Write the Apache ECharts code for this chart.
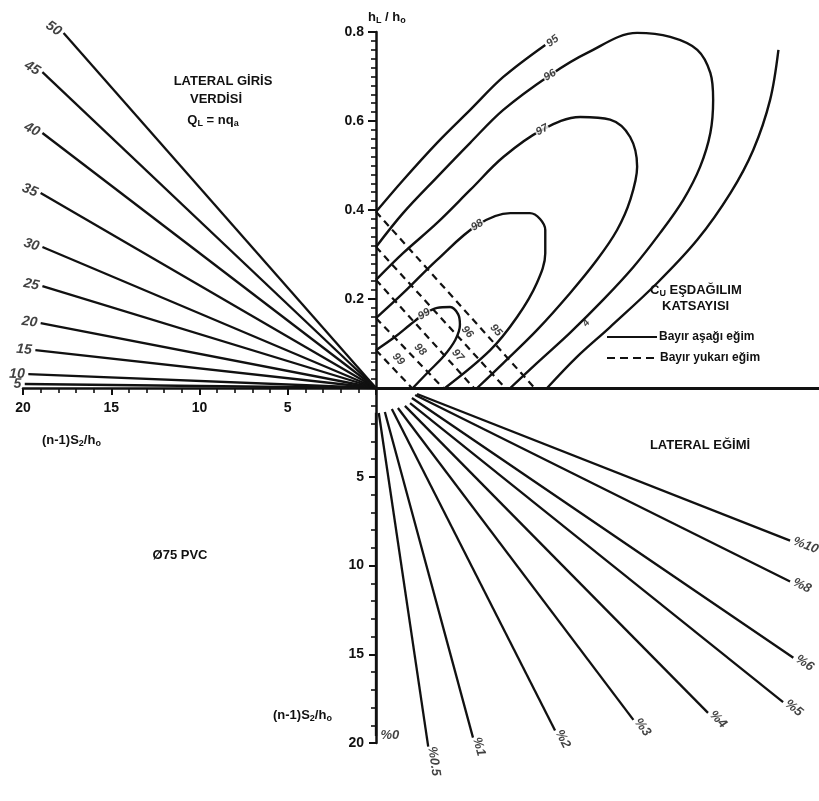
<!DOCTYPE html>
<html>
<head>
<meta charset="utf-8">
<title>Cu eşdağılım nomogramı</title>
<script src="https://cdn.jsdelivr.net/npm/echarts@6/dist/echarts.min.js"></script>
<style>
html,body{margin:0;padding:0;background:#fff;}
#chart{width:819px;height:801px;}
</style>
</head>
<body>
<div id="chart"></div>
<script>
// ---- Lateral inflow QL = n·qa (upper-left): far end of each ray, x = (n-1)S2/ho, y = hL/ho
const inflowN    = [5, 10, 15, 20, 25, 30, 35, 40, 45, 50];
const inflowEndX = [19.9, 19.7, 19.3, 19.0, 18.9, 18.9, 19.0, 18.9, 18.9, 17.7];
const inflowEndY = [0.009, 0.031, 0.085, 0.146, 0.229, 0.317, 0.438, 0.573, 0.710, 0.798];

// ---- Lateral slope (lower-right): x = ΔZ/ho, y = (n-1)S2/ho
const slopeNames  = ['%0', '%0.5', '%1', '%2', '%3', '%4', '%5', '%6', '%8', '%10'];
const slopeStartX = [0, 0.006, 0.019, 0.034, 0.047, 0.062, 0.073, 0.077, 0.084, 0.088];
const slopeStartY = [1.4, 1.41, 1.35, 1.18, 1.13, 1.01, 0.85, 0.56, 0.39, 0.34];
const slopeEndX   = [0, 0.112, 0.208, 0.384, 0.552, 0.712, 0.873, 0.895, 0.888, 0.888];
const slopeEndY   = [19.6, 20.2, 19.7, 19.3, 18.7, 18.3, 17.7, 15.2, 10.9, 8.6];

// ---- Cu contours for downhill slope (solid), x = ΔZ/ho, y = hL/ho
const cu99X = [0, 0.041, 0.073, 0.103, 0.131, 0.159, 0.176, 0.180, 0.170, 0.144, 0.112, 0.079];
const cu99Y = [0.085, 0.115, 0.142, 0.166, 0.180, 0.182, 0.166, 0.142, 0.108, 0.070, 0.036, 0];
const cu98X = [0, 0.058, 0.131, 0.217, 0.288, 0.330, 0.363, 0.363, 0.345, 0.303, 0.245, 0.148];
const cu98Y = [0.157, 0.213, 0.288, 0.366, 0.393, 0.393, 0.355, 0.303, 0.236, 0.160, 0.085, 0];
const cu97X = [0, 0.058, 0.131, 0.202, 0.273, 0.356, 0.438, 0.502, 0.545, 0.560, 0.545, 0.517, 0.474, 0.416, 0.345, 0.273, 0.217];
const cu97Y = [0.243, 0.303, 0.371, 0.445, 0.519, 0.580, 0.609, 0.603, 0.564, 0.497, 0.422, 0.355, 0.288, 0.213, 0.130, 0.056, 0];
const cu96X = [0, 0.058, 0.131, 0.202, 0.273, 0.373, 0.453, 0.560, 0.631, 0.689, 0.717, 0.723, 0.717, 0.695, 0.659, 0.609, 0.552, 0.487, 0.416, 0.345, 0.288];
const cu96Y = [0.317, 0.393, 0.474, 0.551, 0.625, 0.703, 0.753, 0.798, 0.789, 0.760, 0.708, 0.647, 0.573, 0.497, 0.423, 0.348, 0.272, 0.198, 0.124, 0.056, 0];
const cu95aX = [0, 0.058, 0.131, 0.202, 0.273, 0.363];
const cu95aY = [0.396, 0.467, 0.551, 0.625, 0.699, 0.771];
const cu95bX = [0.863, 0.845, 0.809, 0.760, 0.689, 0.603, 0.502, 0.431, 0.367];
const cu95bY = [0.760, 0.647, 0.535, 0.438, 0.333, 0.236, 0.137, 0.070, 0];

// ---- Cu lines for uphill slope (dashed): intercepts on both axes
const upCu = [95, 96, 97, 98, 99];
const upY0 = [0.396, 0.317, 0.243, 0.157, 0.085];
const upX0 = [0.340, 0.277, 0.210, 0.144, 0.077];

// ---- Axis tick values
const hTicks = [0.2, 0.4, 0.6, 0.8];
const sTicks = [5, 10, 15, 20];

const INK = '#111';
const FONT = '"Liberation Sans", "DejaVu Sans", Arial, sans-serif';
const DOWN = 'Bayır aşağı eğim';
const UP = 'Bayır yukarı eğim';

const chart = echarts.init(document.getElementById('chart'), null, { renderer: 'canvas' });

const axisLine = w => ({ show: true, onZero: false, lineStyle: { color: INK, width: w } });
const tickLabel = (extra) => Object.assign({
  color: INK, fontFamily: FONT, fontSize: 14, fontWeight: 'bold', showMinLabel: false
}, extra);

const baseSeries = [];

// rays of lateral inflow
inflowN.forEach((n, i) => {
  baseSeries.push({
    type: 'line', name: 'n=' + n, xAxisIndex: 0, yAxisIndex: 0,
    data: [[0, 0], [inflowEndX[i], inflowEndY[i]]],
    symbol: 'none', silent: true, clip: false,
    itemStyle: { color: INK },
    lineStyle: { color: INK, width: 2.3 }
  });
});

// rays of lateral slope
slopeNames.forEach((s, i) => {
  baseSeries.push({
    type: 'line', name: s, xAxisIndex: 2, yAxisIndex: 2,
    data: [[slopeStartX[i], slopeStartY[i]], [slopeEndX[i], slopeEndY[i]]],
    symbol: 'none', silent: true, clip: false,
    itemStyle: { color: INK },
    lineStyle: { color: INK, width: 2.3 }
  });
});

// solid Cu curves
const solidCurves = [
  { xs: cu99X, ys: cu99Y, text: '99', at: 3 },
  { xs: cu98X, ys: cu98Y, text: '98', at: 3 },
  { xs: cu97X, ys: cu97Y, text: '97', at: 5 },
  { xs: cu96X, ys: cu96Y, text: '96', at: 5 },
  { xs: cu95aX, ys: cu95aY, text: '95', at: 'end' },
  { xs: cu95bX, ys: cu95bY, text: '4', at: 'side' }
];
solidCurves.forEach(c => {
  baseSeries.push({
    type: 'line', name: DOWN, xAxisIndex: 1, yAxisIndex: 1,
    data: c.xs.map((x, k) => [x, c.ys[k]]),
    symbol: 'none', smooth: 0.35, silent: true,
    itemStyle: { color: INK },
    lineStyle: { color: INK, width: 2.4 }
  });
});

// dashed Cu lines
upCu.forEach((cu, i) => {
  baseSeries.push({
    type: 'line', name: UP, xAxisIndex: 1, yAxisIndex: 1,
    data: [[0, upY0[i]], [upX0[i], 0]],
    symbol: 'none', silent: true,
    itemStyle: { color: INK },
    lineStyle: { color: INK, width: 2.2, type: [7, 5] }
  });
});

const rich = {
  b: { fontFamily: FONT, fontWeight: 'bold', fontSize: 13, color: INK, lineHeight: 16 },
  s: { fontFamily: FONT, fontWeight: 'bold', fontSize: 9, color: INK, lineHeight: 16, verticalAlign: 'bottom', padding: [7, 0, 0, 0] }
};
function txt(x, y, text, align, size) {
  return {
    type: 'text', x: x, y: y, silent: true,
    style: {
      text: text, rich: rich, fill: INK,
      font: 'bold ' + (size || 13) + 'px ' + FONT,
      textAlign: align || 'left', align: align || 'left',
      textVerticalAlign: 'middle', verticalAlign: 'middle'
    }
  };
}
function seg(x1, y1, x2, y2, dash) {
  return {
    type: 'line', silent: true,
    shape: { x1: x1, y1: y1, x2: x2, y2: y2 },
    style: { stroke: INK, lineWidth: 2.2, lineDash: dash || null }
  };
}

const option = {
  animation: false,
  backgroundColor: '#fff',
  grid: [
    { left: 23, top: 32, width: 353, height: 356, containLabel: false, outerBoundsMode: 'none' },
    { left: 376, top: 32, width: 443, height: 356, containLabel: false, outerBoundsMode: 'none' },
    { left: 376, top: 388, width: 443, height: 355, containLabel: false, outerBoundsMode: 'none' }
  ],
  xAxis: [
    {
      gridIndex: 0, type: 'value', min: 0, max: 20, interval: 5, inverse: true,
      axisLine: axisLine(2.5),
      axisTick: { show: true, length: 7, lineStyle: { color: INK, width: 2 } },
      minorTick: { show: true, splitNumber: 5, length: 5, lineStyle: { color: INK, width: 1.6 } },
      axisLabel: tickLabel({ margin: 13, formatter: v => (sTicks.indexOf(v) >= 0 ? String(v) : '') }),
      splitLine: { show: false }
    },
    {
      gridIndex: 1, type: 'value', min: 0, max: 0.95,
      axisLine: axisLine(3), axisTick: { show: false }, axisLabel: { show: false },
      splitLine: { show: false }
    },
    { gridIndex: 2, type: 'value', min: 0, max: 0.95, show: false }
  ],
  yAxis: [
    { gridIndex: 0, type: 'value', min: 0, max: 0.8, show: false },
    {
      gridIndex: 1, type: 'value', min: 0, max: 0.8, interval: 0.2, position: 'left',
      axisLine: axisLine(2.5),
      axisTick: { show: true, length: 8, lineStyle: { color: INK, width: 2 } },
      minorTick: { show: true, splitNumber: 10, length: 5, lineStyle: { color: INK, width: 1.6 } },
      axisLabel: tickLabel({ margin: 12, formatter: v => (hTicks.some(t => Math.abs(t - v) < 1e-9) ? v.toFixed(1) : '') }),
      splitLine: { show: false }
    },
    {
      gridIndex: 2, type: 'value', min: 0, max: 20, interval: 5, inverse: true,
      axisLine: axisLine(2.5),
      axisTick: { show: true, length: 7, lineStyle: { color: INK, width: 2 } },
      minorTick: { show: true, splitNumber: 5, length: 5, lineStyle: { color: INK, width: 1.6 } },
      axisLabel: tickLabel({ margin: 12, formatter: v => (sTicks.indexOf(v) >= 0 ? String(v) : '') }),
      splitLine: { show: false }
    }
  ],
  graphic: [
    txt(223, 81, 'LATERAL GİRİS', 'center', 13),
    txt(216, 99, 'VERDİSİ', 'center', 13),
    txt(213, 120, '{b|Q}{s|L}{b| = nq}{s|a}', 'center'),
    txt(650, 290, '{b|C}{s|U}{b| EŞDAĞILIM}', 'left'),
    txt(662, 306, 'KATSAYISI', 'left', 13),
    // key for the two line styles
    seg(607, 337, 657, 337),
    txt(659, 337, DOWN, 'left', 12),
    seg(607, 358, 654, 358, [8, 5]),
    txt(660, 358, UP, 'left', 12),
    txt(700, 445, 'LATERAL EĞİMİ', 'center', 13),
    txt(180, 555, 'Ø75 PVC', 'center', 13),
    txt(42, 440, '{b|(n-1)S}{s|2}{b|/h}{s|o}', 'left'),
    txt(273, 715, '{b|(n-1)S}{s|2}{b|/h}{s|o}', 'left'),
    txt(368, 17, '{b|h}{s|L}{b| / h}{s|o}', 'left')
  ],
  series: baseSeries
};

chart.setOption(option);

// ---- labels placed along the drawn marks
const P = (xi, yi, p) => chart.convertToPixel({ xAxisIndex: xi, yAxisIndex: yi }, p);
const D = (xi, yi, q) => chart.convertFromPixel({ xAxisIndex: xi, yAxisIndex: yi }, q);
const ang = (a, b) => Math.atan2(b[1] - a[1], b[0] - a[0]) * 180 / Math.PI;

function labelSeries(xi, yi, items) {
  return {
    type: 'scatter', xAxisIndex: xi, yAxisIndex: yi, symbolSize: 1, silent: true, z: 6, clip: false,
    itemStyle: { color: 'rgba(0,0,0,0)' },
    data: items.map(it => ({
      value: it.value,
      label: {
        show: true, formatter: it.text, position: it.position || 'inside',
        distance: it.distance == null ? 4 : it.distance, rotate: it.rotate || 0,
        color: INK, fontFamily: FONT, fontSize: it.size || 12, fontWeight: 'bold',
        fontStyle: 'italic', backgroundColor: it.bg || 'transparent', padding: it.bg ? [0, 1] : 0
      }
    }))
  };
}

// inflow ray labels at the outer ends
const inflowLabels = inflowN.map((n, i) => {
  const e = [inflowEndX[i], inflowEndY[i]];
  const a = ang(P(0, 0, e), P(0, 0, [0, 0]));
  return { value: e, text: String(n), position: 'left', distance: 3, rotate: -a * 0.7, size: 14 };
});

// slope ray labels at the outer ends
const slopeLabels = slopeNames.map((s, i) => {
  const a0 = P(2, 2, [slopeStartX[i], slopeStartY[i]]);
  const a1 = P(2, 2, [slopeEndX[i], slopeEndY[i]]);
  const vertical = slopeEndX[i] === 0;
  return {
    value: [slopeEndX[i], slopeEndY[i]], text: s, position: 'right',
    distance: vertical ? 4 : 3, rotate: vertical ? 0 : -ang(a0, a1), size: 13
  };
});

// solid contour labels
const contourLabels = [];
solidCurves.forEach(c => {
  const pts = c.xs.map((x, k) => P(1, 1, [x, c.ys[k]]));
  if (c.at === 'end') {
    const n = pts.length;
    contourLabels.push({ value: [c.xs[n - 1], c.ys[n - 1]], text: c.text, position: 'right', distance: 2, rotate: -ang(pts[n - 2], pts[n - 1]), size: 11 });
  } else if (c.at === 'side') {
    const p = pts[6];
    contourLabels.push({ value: D(1, 1, [p[0] - 24, p[1] - 4]), text: c.text, rotate: 50, size: 10 });
  } else {
    const k = c.at;
    contourLabels.push({ value: [c.xs[k], c.ys[k]], text: c.text, rotate: -ang(pts[k - 1], pts[k + 1]), size: 11, bg: '#fff' });
  }
});

// dashed line labels, set just above each line
const dashFrac = [0.71, 0.65, 0.76, 0.55, 0.42];
upCu.forEach((cu, i) => {
  const a0 = P(1, 1, [0, upY0[i]]), a1 = P(1, 1, [upX0[i], 0]);
  const t = dashFrac[i];
  const p = [a0[0] + (a1[0] - a0[0]) * t, a0[1] + (a1[1] - a0[1]) * t];
  const a = ang(a0, a1) * Math.PI / 180;
  const q = [p[0] + 10 * Math.sin(a), p[1] - 10 * Math.cos(a)];
  contourLabels.push({ value: D(1, 1, q), text: String(cu), rotate: -ang(a0, a1), size: 11 });
});

option.series = baseSeries.concat([
  labelSeries(0, 0, inflowLabels),
  labelSeries(2, 2, slopeLabels),
  labelSeries(1, 1, contourLabels)
]);
chart.setOption(option, true);
</script>
</body>
</html>
